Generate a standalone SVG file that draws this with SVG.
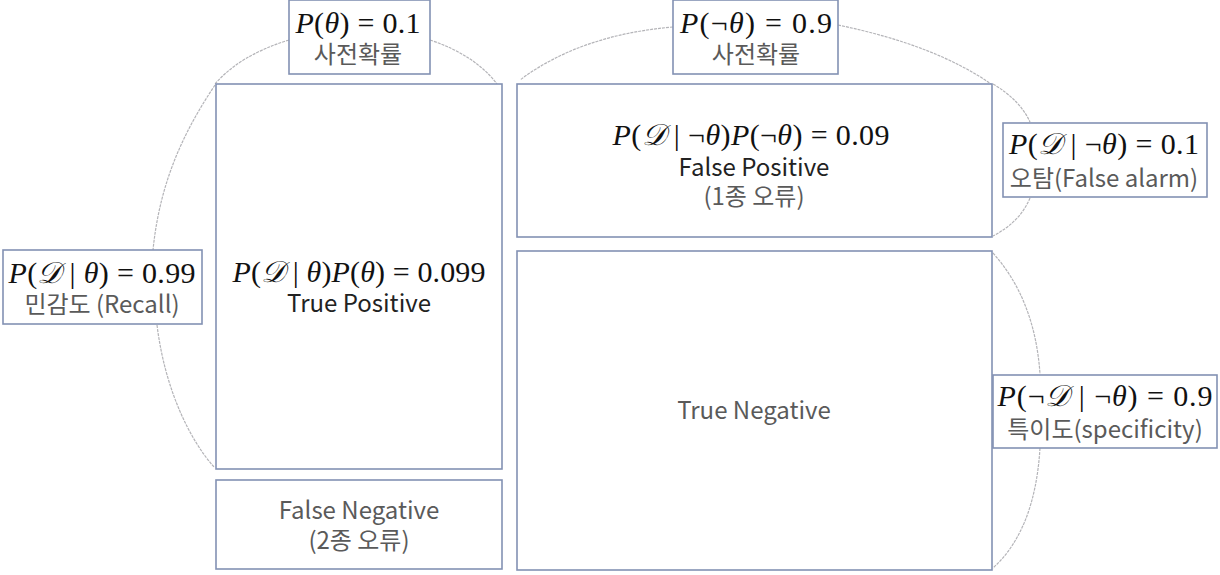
<svg xmlns="http://www.w3.org/2000/svg" width="1220" height="575" viewBox="0 0 1220 575">
<style>
.box{fill:#fff;stroke:#8391b3;stroke-width:1.6}
.arc{fill:none;stroke:#b4b4b8;stroke-width:1.2;stroke-dasharray:3 1}
.m{font-family:"Liberation Serif","DejaVu Serif",serif;font-size:30px;fill:#111;text-anchor:middle}
.i{font-style:italic}
.k{font-family:"Noto Sans CJK KR","Noto Sans",sans-serif;font-size:24px;fill:#5a5a5a;text-anchor:middle}
.d{font-family:"Noto Sans CJK KR","Noto Sans",sans-serif;font-size:24px;fill:#222;text-anchor:middle}
</style>
<rect width="1220" height="575" fill="#fff"/>
<g id="connectors">
<path class="arc" d="M289,40 Q240,55 215,84"/>
<path class="arc" d="M215,85 C185,130 160,180 153,250"/>
<path class="arc" d="M157,325 C165,390 190,440 214,467"/>
<path class="arc" d="M430,40 Q475,55 497,84"/>
<path class="arc" d="M673,27 Q580,35 520,80"/>
<path class="arc" d="M838,25 Q935,45 991,84"/>
<path class="arc" d="M993,84 Q1020,100 1030,122"/>
<path class="arc" d="M1030,198 Q1020,222 993,236"/>
<path class="arc" d="M993,253 Q1035,300 1040,374"/>
<path class="arc" d="M1040,448 Q1035,530 993,568"/>
</g>
<g id="tp">
<rect class="box" x="216" y="84" width="286" height="385"/>
<text class="m" x="359" y="282" textLength="253" lengthAdjust="spacing"><tspan class="i">P</tspan>(<tspan class="i">𝒟</tspan> | <tspan class="i">θ</tspan>)<tspan class="i">P</tspan>(<tspan class="i">θ</tspan>) = 0.099</text>
<text class="d" x="359" y="312">True Positive</text>
</g>
<g id="fn">
<rect class="box" x="216" y="480" width="286" height="89"/>
<text class="k" x="359" y="519">False Negative</text>
<text class="k" x="359" y="549">(2종 오류)</text>
</g>
<g id="fp">
<rect class="box" x="517" y="84" width="475" height="153"/>
<text class="m" x="751" y="145" textLength="277" lengthAdjust="spacing"><tspan class="i">P</tspan>(<tspan class="i">𝒟</tspan> | ¬<tspan class="i">θ</tspan>)<tspan class="i">P</tspan>(¬<tspan class="i">θ</tspan>) = 0.09</text>
<text class="d" x="754" y="176">False Positive</text>
<text class="k" x="754" y="205">(1종 오류)</text>
</g>
<g id="tn">
<rect class="box" x="517" y="251" width="475" height="319"/>
<text class="k" x="754" y="419">True Negative</text>
</g>
<g id="prior-theta">
<rect class="box" x="289" y="0" width="141" height="74"/>
<text class="m" x="358" y="33" textLength="125" lengthAdjust="spacing"><tspan class="i">P</tspan>(<tspan class="i">θ</tspan>) = 0.1</text>
<text class="k" x="358" y="63">사전확률</text>
</g>
<g id="prior-not-theta">
<rect class="box" x="673" y="0" width="165" height="74"/>
<text class="m" x="756" y="33" textLength="152" lengthAdjust="spacing"><tspan class="i">P</tspan>(¬<tspan class="i">θ</tspan>) = 0.9</text>
<text class="k" x="756" y="63">사전확률</text>
</g>
<g id="recall">
<rect class="box" x="3" y="250" width="199" height="74"/>
<text class="m" x="102" y="283" textLength="187" lengthAdjust="spacing"><tspan class="i">P</tspan>(<tspan class="i">𝒟</tspan> | <tspan class="i">θ</tspan>) = 0.99</text>
<text class="k" x="102" y="313">민감도 (Recall)</text>
</g>
<g id="false-alarm">
<rect class="box" x="1003" y="123" width="204" height="74"/>
<text class="m" x="1104" y="154" textLength="190" lengthAdjust="spacing"><tspan class="i">P</tspan>(<tspan class="i">𝒟</tspan> | ¬<tspan class="i">θ</tspan>) = 0.1</text>
<text class="k" x="1104" y="187">오탐(False alarm)</text>
</g>
<g id="specificity">
<rect class="box" x="993" y="375" width="224" height="73"/>
<text class="m" x="1105" y="406" textLength="215" lengthAdjust="spacing"><tspan class="i">P</tspan>(¬<tspan class="i">𝒟</tspan> | ¬<tspan class="i">θ</tspan>) = 0.9</text>
<text class="k" x="1105" y="438">특이도(specificity)</text>
</g>
</svg>
